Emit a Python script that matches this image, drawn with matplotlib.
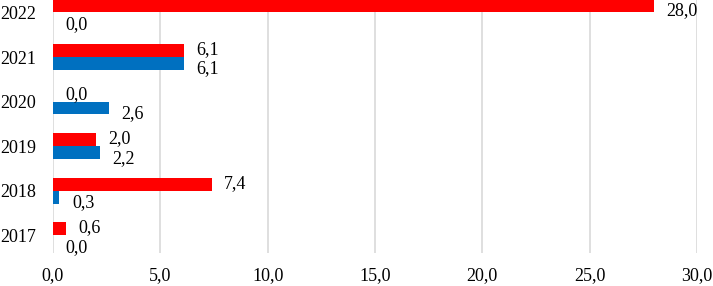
import matplotlib.pyplot as plt
import numpy as np

years = ["2017", "2018", "2019", "2020", "2021", "2022"]
red_vals = [0.6, 7.4, 2.0, 0.0, 6.1, 28.0]
blue_vals = [0.0, 0.3, 2.2, 2.6, 6.1, 0.0]
xticks = [0, 5, 10, 15, 20, 25, 30]

plt.rcParams['font.family'] = ['Liberation Serif', 'DejaVu Serif']

fig = plt.figure(figsize=(7.13, 2.86), dpi=100)
ax = fig.add_axes([0.0743, 0.1154, 0.9033, 0.8846])

y = np.arange(len(years))
h = 0.29
ax.barh(y + h / 2, red_vals, height=h, color="#FF0000", zorder=3)
ax.barh(y - h / 2, blue_vals, height=h, color="#0070C0", zorder=3)

def fmt(v):
    return f"{v:.1f}".replace(".", ",")

for yi, v in zip(y, red_vals):
    # top label sits a bit lower so it stays inside the figure
    dy = -3 if yi == y[-1] else 0.5
    ax.annotate(fmt(v), (v, yi + h / 2), xytext=(9, dy), textcoords="offset points",
                va="center", ha="left", fontsize=13)
for yi, v in zip(y, blue_vals):
    ax.annotate(fmt(v), (v, yi - h / 2), xytext=(9, -4), textcoords="offset points",
                va="center", ha="left", fontsize=13)

ax.set_xlim(0, 30)
ax.set_ylim(-0.4, 5.28)
ax.set_xticks(xticks)
ax.set_xticklabels([fmt(t) for t in xticks], fontsize=13)
ax.set_yticks(y)
ax.set_yticklabels(years, fontsize=13)
ax.tick_params(axis="x", length=0, pad=10)
ax.tick_params(axis="y", length=0, pad=12)
ax.grid(axis="x", color="#D9D9D9", linewidth=1.2, zorder=0)
for s in ax.spines.values():
    s.set_visible(False)

fig.savefig("out.png", dpi=100)
